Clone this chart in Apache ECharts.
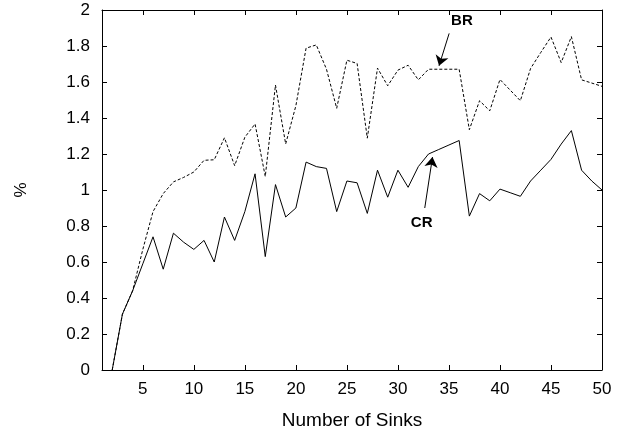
<!DOCTYPE html>
<html>
<head>
<meta charset="utf-8">
<script src="https://cdn.jsdelivr.net/npm/echarts@6/dist/echarts.min.js"></script>
<style>
html,body{margin:0;padding:0;background:#fff;}
#chart{width:631px;height:435px;}
</style>
</head>
<body>
<div id="chart"></div>
<script>
const sinks = [2,3,4,5,6,7,8,9,10,11,12,13,14,15,16,17,18,19,20,21,22,23,24,25,26,27,28,29,30,31,32,33,34,35,36,37,38,39,40,41,42,43,44,45,46,47,48,49,50];
const crValues = [0,0.31,0.44,0.59,0.74,0.56,0.76,0.71,0.67,0.72,0.60,0.85,0.72,0.88,1.09,0.63,1.03,0.85,0.90,1.155,1.13,1.12,0.88,1.05,1.04,0.87,1.11,0.96,1.11,1.015,1.13,1.20,1.225,1.25,1.275,0.855,0.98,0.94,1.005,0.985,0.965,1.05,1.11,1.17,1.255,1.33,1.11,1.05,1.0];
const brValues = [0,0.31,0.44,0.67,0.88,0.98,1.045,1.07,1.10,1.165,1.168,1.29,1.135,1.293,1.367,1.075,1.583,1.256,1.468,1.788,1.806,1.671,1.454,1.721,1.703,1.288,1.677,1.579,1.666,1.693,1.612,1.671,1.671,1.671,1.671,1.335,1.496,1.44,1.614,1.555,1.496,1.675,1.764,1.85,1.708,1.852,1.612,1.594,1.576];
const xTicks = [5,10,15,20,25,30,35,40,45,50];
const xTitle = 'Number of Sinks';
const yTitle = '%';
// annotation anchors (data coordinates)
const brLabel = {text:'BR', at:[36.27,1.937], arrowFrom:[35.02,1.87], arrowTo:[34.03,1.69]};
const crLabel = {text:'CR', at:[32.33,0.82], arrowFrom:[32.63,0.90], arrowTo:[33.39,1.183]};

const font = 'Liberation Sans, Arial, Helvetica, sans-serif';
const chart = echarts.init(document.getElementById('chart'), null, {renderer:'canvas'});
const zip = (xs, ys) => xs.map((x,i)=>[x, ys[i]]);

function annot(lbl){
  return {
    markLine: {
      silent:true, animation:false,
      symbol:['none','arrow'], symbolSize:10,
      lineStyle:{color:'#000', width:1, type:'solid'},
      itemStyle:{color:'#000'},
      label:{show:false},
      emphasis:{disabled:true},
      data:[[{coord:lbl.arrowFrom},{coord:lbl.arrowTo}]]
    },
    markPoint: {
      silent:true, animation:false,
      symbol:'circle', symbolSize:0,
      label:{show:true, position:'inside', formatter:lbl.text, color:'#000', fontWeight:'bold', fontSize:15, fontFamily:font},
      data:[{coord:lbl.at}]
    }
  };
}

const tickStyle = {show:true, inside:true, length:5, lineStyle:{color:'#000', width:1}};
const axisLineStyle = {show:true, onZero:false, lineStyle:{color:'#000', width:1}};

chart.setOption({
  animation:false,
  backgroundColor:'#fff',
  grid:{left:102, right:29, top:10, bottom:63, containLabel:false},
  xAxis:[{
    type:'value', min:1, max:50, position:'bottom',
    axisLine:axisLineStyle,
    axisTick:Object.assign({customValues:xTicks}, tickStyle),
    axisLabel:{customValues:xTicks, color:'#000', fontSize:17, fontFamily:font, margin:11},
    splitLine:{show:false},
    name:xTitle, nameLocation:'middle', nameGap:41,
    nameTextStyle:{color:'#000', fontSize:19, fontFamily:font}
  },{
    type:'value', min:1, max:50, position:'top',
    axisLine:axisLineStyle,
    axisTick:Object.assign({customValues:xTicks}, tickStyle),
    axisLabel:{show:false},
    splitLine:{show:false}
  }],
  yAxis:[{
    type:'value', min:0, max:2, interval:0.2, position:'left',
    axisLine:axisLineStyle,
    axisTick:tickStyle,
    axisLabel:{color:'#000', fontSize:17, fontFamily:font, margin:12,
      formatter:v=>String(Math.round(v*10)/10)},
    splitLine:{show:false},
    name:yTitle, nameLocation:'middle', nameGap:72, nameRotate:90,
    nameTextStyle:{color:'#000', fontSize:17, fontFamily:font}
  },{
    type:'value', min:0, max:2, interval:0.2, position:'right',
    axisLine:axisLineStyle,
    axisTick:tickStyle,
    axisLabel:{show:false},
    splitLine:{show:false}
  }],
  series:[
    Object.assign({
      name:'BR', type:'line', data:zip(sinks, brValues), showSymbol:false,
      lineStyle:{color:'#000', width:1, type:[3,2]}, itemStyle:{color:'#000'}
    }, annot(brLabel)),
    Object.assign({
      name:'CR', type:'line', data:zip(sinks, crValues), showSymbol:false,
      lineStyle:{color:'#000', width:1, type:'solid'}, itemStyle:{color:'#000'}
    }, annot(crLabel))
  ]
});
</script>
</body>
</html>
